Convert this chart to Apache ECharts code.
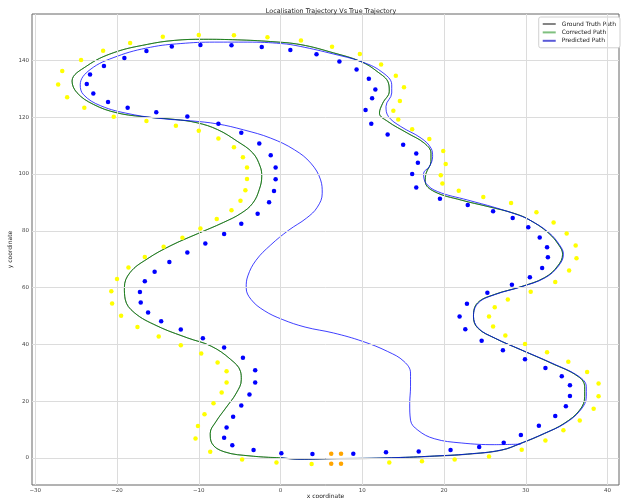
<!DOCTYPE html>
<html>
<head>
<meta charset="utf-8">
<script src="https://cdn.jsdelivr.net/npm/echarts@6.0.0/dist/echarts.min.js"></script>
<style>
  html, body { margin: 0; padding: 0; background: #fff; }
  #chart_container { width: 621px; height: 501px; }
</style>
</head>
<body>
<div id="chart_container"></div>
<script>
"use strict";

// axis ticks
const xTicks = [-30, -20, -10, 0, 10, 20, 30, 40];
const yTicks = [0, 20, 40, 60, 80, 100, 120, 140];

// paths, [x, y]
const corrected = [
    [0.1, 0.1], [2.4, -0.4], [6.2, -0.2], [10.6, -0.1], [14.7, 0.2], [18.8, 0.7], [22.9, 1.4],
    [27.0, 2.8], [29.4, 5.2], [32.3, 8.7], [34.7, 12.2], [36.6, 16.9], [37.2, 21.6], [37.2, 25.1],
    [36.4, 28.7], [33.1, 33.4], [29.4, 38.1], [26.2, 42.2], [24.1, 45.8], [23.6, 49.9], [24.1, 54.6],
    [26.2, 57.6], [29.4, 60.3], [32.3, 63.5], [33.9, 67.6], [34.5, 71.7], [34.1, 74.7], [32.7, 79.4],
    [30.4, 83.9], [28.6, 86.1], [25.4, 88.5], [22.1, 90.8], [18.8, 93.8], [17.7, 97.3], [17.8, 100.2],
    [18.4, 104.4], [18.4, 107.3], [17.6, 110.8], [15.5, 114.4], [13.1, 118.5], [12.1, 121.4],
    [12.5, 124.9], [13.3, 129.1], [13.2, 132.0], [11.8, 136.1], [9.8, 139.6], [6.5, 142.6],
    [2.5, 145.5], [-1.2, 146.6], [-5.3, 147.2], [-9.4, 147.4], [-13.0, 147.0], [-16.3, 145.6],
    [-20.4, 142.7], [-23.7, 138.0], [-25.5, 132.7], [-24.9, 128.6], [-22.9, 124.5], [-20.0, 121.5],
    [-16.3, 120.0], [-13.0, 119.2], [-10.2, 118.0], [-7.7, 115.6], [-5.3, 111.5], [-3.4, 107.4],
    [-2.5, 102.7], [-2.3, 99.2], [-2.6, 94.5], [-3.4, 89.7], [-4.8, 86.2], [-7.0, 82.9],
    [-10.2, 78.9], [-13.4, 74.8], [-16.3, 70.1], [-18.4, 65.3], [-19.1, 60.0], [-19.0, 55.9],
    [-17.9, 51.2], [-15.1, 46.5], [-11.4, 42.3], [-8.5, 39.4], [-6.1, 34.7], [-4.9, 30.5],
    [-4.8, 27.6], [-5.4, 22.9], [-6.7, 17.6], [-7.9, 12.8], [-8.6, 8.7], [-8.4, 5.2], [-6.9, 2.2],
    [-3.6, 0.7], [0.1, 0.1]
];

// hidden under the corrected path almost everywhere
const groundTruth = [
    [0.1, 0.0], [2.4, -0.5], [6.2, -0.3], [10.6, -0.2], [14.7, 0.1], [18.8, 0.6], [22.9, 1.3],
    [27.0, 2.7], [29.4, 5.1], [32.3, 8.6], [34.7, 12.2], [36.6, 16.9], [37.2, 21.6], [37.2, 25.1],
    [36.4, 28.7], [33.1, 33.4], [29.4, 38.1], [26.2, 42.2], [24.1, 45.8], [23.6, 49.9], [24.1, 54.6],
    [26.2, 57.6], [29.4, 60.3], [32.3, 63.5], [33.9, 67.6], [34.5, 71.7], [34.1, 74.7], [32.7, 79.4],
    [30.4, 83.9], [28.6, 86.1], [25.4, 88.5], [22.1, 90.8], [18.8, 93.8], [17.7, 97.3], [17.8, 100.2],
    [18.4, 104.4], [18.4, 107.3], [17.6, 110.8], [15.5, 114.4], [13.1, 118.5], [12.1, 121.4],
    [12.5, 124.9], [13.3, 129.1], [13.2, 132.0], [11.8, 136.1], [9.8, 139.6], [6.5, 142.6],
    [2.5, 145.5], [-1.2, 146.6], [-5.3, 147.2], [-9.4, 147.4], [-13.0, 147.0], [-16.3, 145.6],
    [-20.4, 142.7], [-23.7, 138.0], [-25.5, 132.7], [-24.9, 128.6], [-22.9, 124.5], [-20.0, 121.5],
    [-16.3, 120.0], [-13.0, 119.2], [-10.2, 118.0], [-7.7, 115.6], [-5.3, 111.5], [-3.4, 107.4],
    [-2.5, 102.7], [-2.3, 99.2], [-2.6, 94.5], [-3.4, 89.7], [-4.8, 86.2], [-7.0, 82.9],
    [-10.2, 78.9], [-13.4, 74.8], [-16.3, 70.1], [-18.4, 65.3], [-19.1, 60.0], [-19.0, 55.9],
    [-17.9, 51.2], [-15.1, 46.5], [-11.4, 42.3], [-8.5, 39.4], [-6.1, 34.7], [-4.9, 30.5],
    [-4.8, 27.6], [-5.4, 22.9], [-6.7, 17.6], [-7.9, 12.8], [-8.6, 8.7], [-8.4, 5.2], [-6.9, 2.2],
    [-3.6, 0.7], [0.1, 0.0]
];

const predicted = [
    [0.0, 0.1], [2.4, -0.4], [6.2, -0.2], [10.6, -0.1], [14.7, 0.2], [18.8, 0.7], [22.9, 1.4],
    [27.0, 2.8], [29.4, 5.2], [32.3, 8.7], [34.8, 12.2], [36.7, 16.9], [37.4, 21.6], [37.4, 25.1],
    [36.5, 28.7], [33.2, 33.4], [29.5, 38.0], [26.3, 42.1], [24.2, 45.7], [23.6, 49.9], [24.2, 54.6],
    [26.3, 57.6], [29.5, 60.3], [32.4, 63.5], [34.0, 67.6], [34.6, 71.7], [34.2, 74.7], [32.8, 79.4],
    [30.4, 83.9], [29.1, 85.5], [26.2, 88.2], [22.9, 90.8], [19.2, 93.8], [17.8, 96.7], [17.5, 100.2],
    [18.2, 102.6], [18.6, 106.1], [18.4, 109.1], [17.2, 112.6], [14.7, 116.7], [13.2, 120.2],
    [12.9, 123.8], [13.6, 128.5], [13.6, 131.4], [12.3, 136.1], [9.8, 139.6], [6.5, 142.2],
    [2.4, 144.9], [0.1, 145.9], [-4.0, 146.4], [-8.1, 146.4], [-12.2, 145.9], [-15.9, 144.6],
    [-20.0, 141.4], [-23.3, 136.7], [-24.5, 131.4], [-24.1, 127.9], [-22.0, 124.0], [-18.4, 121.1],
    [-14.3, 119.4], [-11.0, 118.7], [-7.7, 117.6], [-4.5, 115.5], [-1.2, 112.6], [1.7, 108.5],
    [3.7, 103.8], [4.9, 97.9], [5.1, 93.2], [4.5, 88.3], [3.2, 84.5], [1.0, 80.2], [-1.2, 75.0],
    [-3.0, 69.6], [-4.0, 64.1], [-4.2, 59.9], [-3.6, 55.8], [-2.0, 51.9], [0.2, 48.8], [3.0, 46.1],
    [6.5, 44.0], [10.0, 41.1], [13.1, 37.5], [15.1, 34.0], [15.9, 29.9], [15.9, 25.1], [15.8, 19.2],
    [15.9, 13.3], [16.8, 9.8], [18.8, 6.8], [22.1, 5.3], [26.2, 4.7], [29.4, 4.9]
];

// marker dots
const bluePts = [
    [0.1, 1.7], [3.9, 1.4], [8.9, 1.5], [12.9, 2.0], [16.9, 2.3], [20.8, 2.8], [24.3, 3.9], [27.3, 5.4],
    [29.4, 8.1], [31.6, 11.4], [33.6, 14.8], [34.9, 18.2], [35.4, 21.8], [35.4, 25.6], [34.4, 28.8],
    [32.4, 31.7], [29.9, 34.8], [27.2, 37.9], [24.6, 41.3], [22.6, 45.3], [21.9, 49.8], [22.8, 54.3],
    [25.3, 58.2], [28.3, 61.0], [30.5, 63.6], [32.0, 66.9], [32.7, 70.7], [32.6, 74.2], [31.7, 77.6],
    [30.3, 81.2], [28.4, 84.5], [26.0, 86.9], [22.9, 89.1], [19.5, 91.3], [16.6, 95.2], [16.1, 100.0],
    [16.8, 103.9], [16.6, 107.2], [15.0, 110.3], [13.1, 113.9], [11.1, 117.7], [10.4, 122.5],
    [11.2, 126.6], [11.6, 129.7], [10.8, 133.5], [9.3, 136.8], [7.2, 139.6], [4.4, 142.1], [1.2, 143.6],
    [-2.3, 144.7], [-6.0, 145.3], [-9.8, 145.4], [-13.3, 144.9], [-16.4, 143.3], [-19.1, 140.8],
    [-21.6, 138.0], [-23.3, 135.0], [-23.7, 131.7], [-22.9, 128.3], [-21.1, 125.3], [-18.7, 123.3],
    [-15.2, 121.7], [-11.4, 120.2], [-7.6, 117.7], [-4.8, 114.5], [-2.6, 110.7], [-1.2, 106.6],
    [-0.6, 102.3], [-0.6, 98.1], [-0.8, 94.0], [-1.4, 90.0], [-2.8, 86.0], [-4.8, 82.5], [-6.9, 78.9],
    [-9.2, 75.5], [-11.4, 72.3], [-13.6, 69.0], [-15.4, 65.6], [-16.6, 62.2], [-17.2, 58.4],
    [-17.1, 54.7], [-16.2, 51.2], [-14.6, 48.1], [-12.2, 45.2], [-9.5, 42.2], [-6.9, 38.9], [-4.6, 35.3],
    [-3.1, 30.9], [-3.1, 26.6], [-3.8, 22.4], [-4.8, 18.5], [-5.8, 14.5], [-6.6, 10.7], [-6.9, 7.1],
    [-5.9, 4.5], [-3.3, 2.8]
];

const yellowPts = [
    [-0.5, -1.6], [3.8, -2.1], [13.3, -1.6], [17.3, -1.1], [21.3, -0.5], [25.5, 0.5], [29.5, 2.9],
    [32.4, 6.2], [34.6, 9.8], [36.6, 13.2], [38.3, 17.3], [38.9, 21.7], [38.9, 26.2], [37.5, 30.3],
    [35.2, 33.9], [32.6, 37.2], [29.9, 40.1], [27.5, 43.1], [26.0, 46.3], [25.5, 49.8], [26.2, 53.1],
    [27.8, 55.8], [30.6, 58.5], [33.6, 62.0], [35.3, 66.0], [36.2, 70.3], [36.1, 74.8], [35.0, 79.0],
    [33.4, 82.9], [31.3, 86.5], [28.2, 89.8], [24.8, 91.9], [21.8, 94.1], [19.8, 96.6], [19.6, 99.5],
    [20.2, 103.5], [19.9, 108.1], [18.2, 112.3], [16.1, 115.7], [14.4, 119.2], [13.8, 122.2],
    [14.6, 125.7], [15.1, 130.5], [14.1, 134.6], [12.3, 138.5], [9.7, 142.2], [6.3, 144.8], [2.5, 147.0],
    [-1.6, 148.1], [-5.7, 148.8], [-10.0, 148.9], [-14.4, 148.3], [-18.4, 146.1], [-21.7, 143.4],
    [-24.4, 140.1], [-26.7, 136.2], [-27.2, 131.5], [-26.1, 127.0], [-24.0, 123.3], [-20.4, 120.1],
    [-16.4, 118.6], [-12.8, 117.0], [-10.0, 115.2], [-7.6, 112.5], [-5.7, 109.4], [-4.6, 105.9],
    [-4.1, 102.3], [-4.1, 98.2], [-4.3, 94.3], [-4.9, 90.6], [-6.0, 87.2], [-7.8, 84.1], [-9.8, 80.8],
    [-12.0, 77.5], [-14.3, 74.4], [-16.6, 70.8], [-18.6, 67.1], [-20.0, 63.0], [-20.7, 58.7],
    [-20.6, 54.4], [-19.5, 50.1], [-17.5, 46.1], [-14.9, 42.8], [-12.2, 39.7], [-9.7, 36.8],
    [-7.7, 33.6], [-6.6, 30.5], [-6.6, 26.6], [-7.2, 23.1], [-8.2, 19.3], [-9.3, 15.4], [-10.1, 11.3],
    [-10.4, 6.9], [-8.6, 2.2], [-4.7, -0.5]
];

const orangePts = [[6.2, 1.5], [7.4, 1.5], [6.2, -2.0], [7.4, -2.0]];

let myChart;
const font = "DejaVu Sans";

let lineSeries = (name, data, color, z) => ({
    name: name,
    type: "line",
    data: data,
    smooth: 0.4,
    showSymbol: false,
    symbol: "none",
    lineStyle: { color: color, width: 1 },
    itemStyle: { color: color },
    emphasis: { disabled: true },
    animation: false,
    z: z
});

let dotSeries = (name, data, color) => ({
    name: name,
    type: "scatter",
    data: data,
    symbolSize: 4.5,
    itemStyle: { color: color, opacity: 1 },
    emphasis: { disabled: true },
    animation: false,
    z: 6
});

let fmt = (v) => String(v).replace("-", "\u2212");

let legendItem = (name, color) => ({ name: name, icon: "rect", itemStyle: { color: color } });

let optEchart = {
    backgroundColor: "#fff",
    animation: false,
    textStyle: { fontFamily: font },
    title: {
        text: "Localisation Trajectory Vs True Trajectory",
        left: 326, top: 3, textAlign: "center",
        textStyle: { fontSize: 6.4, fontWeight: "normal", color: "#222", fontFamily: font }
    },
    legend: {
        orient: "vertical", right: 1, top: 17,
        padding: [4, 4, 4, 4], itemGap: 2.4, itemWidth: 13, itemHeight: 2,
        backgroundColor: "#fff", borderColor: "#d0d0d0", borderWidth: 1, borderRadius: 2,
        textStyle: { fontSize: 6, color: "#222", fontFamily: font, padding: [0, 0, 0, 1] },
        data: [
            legendItem("Ground Truth Path", "#858585"),
            legendItem("Corrected Path", "#7fc07f"),
            legendItem("Predicted Path", "#5a5ad8")
        ]
    },
    grid: {
        left: 32, right: 2, top: 14, bottom: 16,
        outerBoundsMode: "none", containLabel: false,
        show: true, borderColor: "#666", borderWidth: 1
    },
    xAxis: {
        type: "value", min: -30.4, max: 41.4,
        name: "x coordinate", nameLocation: "middle", nameGap: 11, nameMoveOverlap: false,
        nameTextStyle: { fontSize: 6, color: "#222", fontFamily: font, verticalAlign: "middle" },
        axisLine: { show: false },
        axisTick: { show: true, length: 3, customValues: xTicks, lineStyle: { color: "#666" } },
        axisLabel: { customValues: xTicks, formatter: fmt, fontSize: 5.5, color: "#444", margin: 3 },
        splitLine: { show: false }
    },
    yAxis: {
        type: "value", min: -9.5, max: 156.3,
        name: "y coordinate", nameLocation: "middle", nameGap: 22, nameRotate: 90, nameMoveOverlap: false,
        nameTextStyle: { fontSize: 6, color: "#222", fontFamily: font, verticalAlign: "middle" },
        axisLine: { show: false },
        axisTick: { show: true, length: 3, customValues: yTicks, lineStyle: { color: "#666" } },
        axisLabel: { customValues: yTicks, fontSize: 5.5, color: "#444", margin: 3 },
        splitLine: { show: false }
    },
    series: [
        {
            name: "grid", type: "line", data: [], z: 0, silent: true,
            markLine: {
                silent: true, symbol: ["none", "none"], animation: false,
                label: { show: false },
                lineStyle: { color: "#dcdcdc", width: 1, type: "solid" },
                data: xTicks.map((v) => ({ xAxis: v })).concat(yTicks.map((v) => ({ yAxis: v })))
            }
        },
        lineSeries("Ground Truth Path", groundTruth, "rgba(0,0,0,0.45)", 2),
        lineSeries("Corrected Path", corrected, "rgba(0,128,0,0.8)", 3),
        lineSeries("Predicted Path", predicted, "rgba(0,0,255,0.75)", 4),
        dotSeries("blue markers", bluePts, "#0000ff"),
        dotSeries("yellow markers", yellowPts, "#ffff00"),
        dotSeries("orange markers", orangePts, "#ffa500")
    ]
};

let pageLoaded = () => {
    let chartDom = document.getElementById("chart_container");
    myChart = echarts.init(chartDom, null, { renderer: "canvas" });
    optEchart && myChart.setOption(optEchart);
};

window.addEventListener("load", pageLoaded, false);
</script>
</body>
</html>
